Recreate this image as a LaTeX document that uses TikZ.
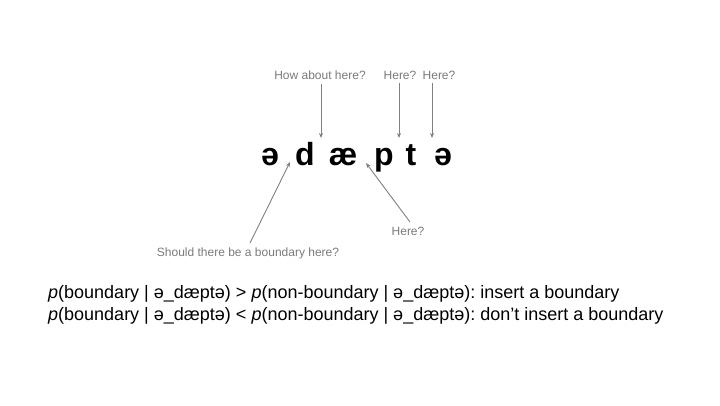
\documentclass[tikz,border=0pt]{standalone}
\usepackage{fontspec}
\setmainfont{Liberation Sans}
\usetikzlibrary{arrows.meta}
\definecolor{labelgray}{HTML}{7A7A7A}
\definecolor{arrowgray}{HTML}{808080}
\frenchspacing
\begin{document}
\begin{tikzpicture}[x=1bp,y=-1bp,
  seg/.style={font=\fontsize{32bp}{38bp}\selectfont\bfseries, anchor=base, inner sep=0pt},
  note/.style={font=\fontsize{12bp}{14bp}\selectfont, text=labelgray, inner sep=1pt},
  pointer/.style={draw=arrowgray, line width=0.9bp, -{Stealth[length=5bp,width=4bp]}},
  rule/.style={font=\fontsize{18bp}{22bp}\selectfont, anchor=base west, inner sep=0pt}]
\useasboundingbox (0,0) rectangle (720,405);

% the segmented word
\node[seg] (s1) at (270,165) {ə};
\node[seg] (s2) at (305,165) {d};
\node[seg] (s3) at (343,165) {æ};
\node[seg] (s4) at (384,165) {p};
\node[seg] (s5) at (411,165) {t};
\node[seg] (s6) at (443,165) {ə};

% candidate boundary labels
\node[note] (q1) at (320,75) {How about here?};
\node[note] (q2) at (400,75) {Here?};
\node[note] (q3) at (439,75) {Here?};
\node[note] (q4) at (408,231) {Here?};
\node[note] (q5) at (248,253) {Should there be a boundary here?};

% boundary positions between segments
\coordinate (b1) at (321,138);
\coordinate (b2) at (399,138);
\coordinate (b3) at (432,138);
\coordinate (b4) at (366,163);
\coordinate (b5) at (290,162);

\draw[pointer] (q1.south -| b1) ++(0,3) -- (b1);
\draw[pointer] (q2.south -| b2) ++(0,3) -- (b2);
\draw[pointer] (q3.south -| b3) ++(0,3) -- (b3);
\draw[pointer] (410,222) -- (b4);
\draw[pointer] (250,243) -- (b5);

% decision rule
\node[rule] (r1) at (48,298) {\textit{p}(boundary | ə\_dæptə) > \textit{p}(non-boundary | ə\_dæptə): insert a boundary};
\node[rule] (r2) at (48,320) {\textit{p}(boundary | ə\_dæptə) < \textit{p}(non-boundary | ə\_dæptə): don’t insert a boundary};
\end{tikzpicture}
\end{document}
